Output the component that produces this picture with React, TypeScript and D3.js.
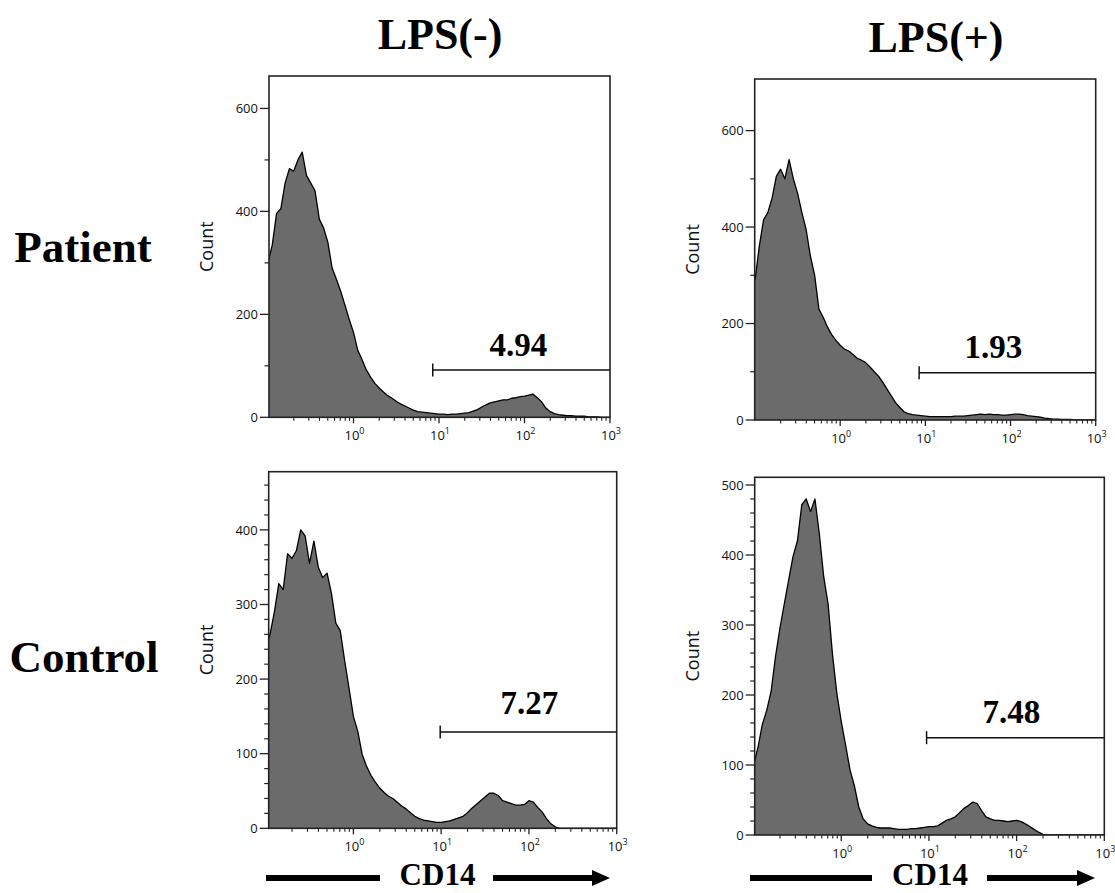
import React from 'react';
import * as d3 from 'd3';

// ---------- DATA ----------
// histogram channels (log10 of CD14 fluorescence)
const CHANNEL_LOG = [
  -1.00, -0.95, -0.90, -0.85, -0.80, -0.75, -0.70, -0.65, -0.60, -0.55,
  -0.50, -0.45, -0.40, -0.35, -0.30, -0.25, -0.20, -0.15, -0.10, -0.05,
  0.00, 0.05, 0.10, 0.15, 0.20, 0.25, 0.30, 0.35, 0.40, 0.45,
  0.50, 0.55, 0.60, 0.65, 0.70, 0.75, 0.80, 0.85, 0.90, 0.95,
  1.00, 1.05, 1.10, 1.15, 1.20, 1.25, 1.30, 1.35, 1.40, 1.45,
  1.50, 1.55, 1.60, 1.65, 1.70, 1.75, 1.80, 1.85, 1.90, 1.95,
  2.00, 2.05, 2.10, 2.15, 2.20, 2.25, 2.30, 2.35, 2.40, 2.45,
  2.50, 2.55, 2.60, 2.65, 2.70, 2.75, 2.80, 2.85, 2.90, 2.95,
  3.00,
];

// Patient, LPS(-)
const PATIENT_LPS_NEG = [
  300, 335, 396, 405, 455, 483, 478, 500, 515, 470,
  455, 440, 385, 368, 340, 290, 268, 245, 218, 190,
  165, 130, 112, 92, 78, 66, 57, 49, 42, 37,
  31, 26, 22, 18, 14, 11, 10, 9, 8, 7,
  6, 6, 5, 6, 6, 7, 8, 9, 12, 15,
  20, 24, 28, 30, 32, 34, 34, 37, 38, 40,
  41, 43, 45, 38, 30, 18, 11, 7, 5, 4,
  3, 3, 2, 2, 2, 1, 1, 1, 0, 0,
  0,
];

// Patient, LPS(+)
const PATIENT_LPS_POS = [
  290, 360, 415, 430, 460, 505, 520, 500, 540, 500,
  470, 430, 395, 340, 300, 230, 213, 193, 177, 165,
  155, 147, 143, 136, 128, 124, 119, 110, 100, 91,
  78, 64, 50, 36, 26, 17, 13, 11, 10, 9,
  8, 7, 7, 7, 7, 7, 7, 8, 8, 8,
  9, 10, 11, 12, 11, 12, 11, 11, 10, 10,
  11, 12, 12, 11, 9, 8, 7, 6, 4, 3,
  2, 2, 1, 1, 1, 0, 0, 0, 0, 0,
  0,
];

// Control, LPS(-)
const CONTROL_LPS_NEG = [
  240, 260, 290, 328, 320, 368, 362, 372, 400, 392,
  355, 385, 350, 336, 342, 315, 275, 265, 225, 188,
  150, 130, 99, 83, 71, 62, 54, 48, 43, 40,
  35, 30, 26, 21, 16, 13, 11, 10, 9, 8,
  8, 9, 10, 12, 14, 16, 21, 27, 32, 37,
  42, 47, 47, 44, 37, 35, 33, 31, 31, 32,
  37, 35, 28, 22, 13, 6, 2, 0, 0, 0,
  0, 0, 0, 0, 0, 0, 0, 0, 0, 0,
  0,
];

// Control, LPS(+)
const CONTROL_LPS_POS = [
  100, 125, 158, 178, 205, 255, 295, 330, 364, 398,
  420, 472, 480, 462, 480, 430, 369, 330, 258, 202,
  162, 128, 93, 70, 40, 23, 16, 13, 11, 10,
  10, 10, 9, 8, 8, 8, 9, 9, 10, 11,
  12, 12, 13, 17, 21, 23, 26, 32, 38, 42,
  47, 45, 35, 26, 23, 21, 21, 20, 19, 20,
  21, 19, 16, 12, 8, 4, 1, 0, 0, 0,
  0, 0, 0, 0, 0, 0, 0, 0, 0, 0,
  0,
];

const ROW_LABELS = ['Patient', 'Control'];
const COL_LABELS = ['LPS(-)', 'LPS(+)'];
const GATE_VALUES = ['4.94', '1.93', '7.27', '7.48'];
const GATE_START = [8.45, 8.45, 9.75, 9.4]; // CD14 where the marker begins
const GATE_LEVEL = [92, 98, 129, 139]; // count height of the marker
const Y_MAX = [663, 707, 478, 511];
const Y_MAJOR_TOP = [0, 200, 400, 600];
const Y_MINOR_TOP = [100, 300, 500];
const Y_MAJOR_CTRL_NEG = [0, 100, 200, 300, 400];
const Y_MAJOR_CTRL_POS = [0, 100, 200, 300, 400, 500];
const X_DECADES = [0, 1, 2, 3];
const X_MIN = [0.1027, 0.0991, 0.1084, 0.103];
const X_MAX = 1000;
const X_AXIS_LABEL = 'CD14';
const Y_AXIS_LABEL = 'Count';

// ---------- LAYOUT ----------
const W = 1115;
const H = 893;
const BOXES = [
  { x0: 269, x1: 610, y0: 76, y1: 417.3 },
  { x0: 754.7, x1: 1095.7, y0: 79, y1: 420 },
  { x0: 268.7, x1: 616.7, y0: 471.7, y1: 828.3 },
  { x0: 754.7, x1: 1104.3, y0: 477.3, y1: 835 },
];
const LABEL_OFFSET = [
  { dx: -3, dy: -14 },
  { dx: -14, dy: -14.5 },
  { dx: 1, dy: -18.5 },
  { dx: -4, dy: -14.5 },
];
const SERIF = '"Liberation Serif", "Times New Roman", Times, serif';
const SANS = '"Open Sans", "Noto Sans", Arial, sans-serif';
const FILL = '#6b6b6b';

const SERIES = [PATIENT_LPS_NEG, PATIENT_LPS_POS, CONTROL_LPS_NEG, CONTROL_LPS_POS];

function minorY(i: number, yMax: number): number[] {
  if (i < 2) return Y_MINOR_TOP;
  const out: number[] = [];
  for (let v = 20; v <= yMax; v += 20) if (v % 100 !== 0) out.push(v);
  return out;
}

function Panel({ i }: { i: number }) {
  const b = BOXES[i];
  const x = d3.scaleLog().domain([X_MIN[i], X_MAX]).range([b.x0, b.x1]);
  const y = d3.scaleLinear().domain([0, Y_MAX[i]]).range([b.y1, b.y0]);
  const counts = SERIES[i];
  const pts = CHANNEL_LOG.map((l, k) => ({ v: Math.pow(10, l), c: counts[k] }));
  const area = d3
    .area<{ v: number; c: number }>()
    .x((d) => x(d.v))
    .y0(y(0))
    .y1((d) => y(d.c));
  const line = d3
    .line<{ v: number; c: number }>()
    .x((d) => x(d.v))
    .y((d) => y(d.c));
  const majorY = i < 2 ? Y_MAJOR_TOP : i === 2 ? Y_MAJOR_CTRL_NEG : Y_MAJOR_CTRL_POS;
  const minY = minorY(i, Y_MAX[i]);
  const minorX: number[] = [];
  for (let e = -1; e < 3; e++) for (let m = 2; m <= 9; m++) {
    const v = m * Math.pow(10, e);
    if (v >= X_MIN[i]) minorX.push(v);
  }
  const clipId = `clip${i}`;
  const gx0 = x(GATE_START[i]);
  const gy = y(GATE_LEVEL[i]);
  const off = LABEL_OFFSET[i];
  return (
    <g>
      <defs>
        <clipPath id={clipId}>
          <rect x={b.x0} y={b.y0} width={b.x1 - b.x0} height={b.y1 - b.y0} />
        </clipPath>
      </defs>
      <g clipPath={`url(#${clipId})`}>
        <path d={area(pts) || ''} fill={FILL} />
        <path d={line(pts) || ''} fill="none" stroke="#000" strokeWidth={1.3} strokeLinejoin="round" />
      </g>
      <rect x={b.x0} y={b.y0} width={b.x1 - b.x0} height={b.y1 - b.y0} fill="none" stroke="#222" strokeWidth={1.6} />
      {/* y ticks */}
      {majorY.map((v) => (
        <g key={'my' + v}>
          <line x1={b.x0 - 9} x2={b.x0} y1={y(v)} y2={y(v)} stroke="#222" strokeWidth={1.3} />
          <text x={b.x0 - 11} y={y(v)} dy="0.36em" textAnchor="end" fontFamily={SANS} fontSize={13} fill="#111">
            {v}
          </text>
        </g>
      ))}
      {minY.map((v) => (
        <line key={'ny' + v} x1={b.x0 - 4.5} x2={b.x0} y1={y(v)} y2={y(v)} stroke="#222" strokeWidth={1.2} />
      ))}
      {/* x ticks */}
      {X_DECADES.map((e) => {
        const px = x(Math.pow(10, e));
        return (
          <g key={'mx' + e}>
            <line x1={px} x2={px} y1={b.y1} y2={b.y1 + 6} stroke="#222" strokeWidth={1.3} />
            <text x={px + 1} y={b.y1 + 23} textAnchor="middle" fontFamily={SANS} fontSize={13} fill="#111">
              10<tspan dy={-6} fontSize={9}>{e}</tspan>
            </text>
          </g>
        );
      })}
      {minorX.map((v) => (
        <line key={'nx' + v} x1={x(v)} x2={x(v)} y1={b.y1} y2={b.y1 + 3.5} stroke="#222" strokeWidth={1.1} />
      ))}
      {/* y axis label */}
      <text
        transform={`translate(${b.x0 - 56},${(b.y0 + b.y1) / 2}) rotate(-90)`}
        textAnchor="middle"
        fontFamily={SANS}
        fontSize={18}
        fill="#111"
      >
        {Y_AXIS_LABEL}
      </text>
      {/* gate */}
      <line x1={gx0} x2={b.x1} y1={gy} y2={gy} stroke="#111" strokeWidth={1.5} />
      <line x1={gx0} x2={gx0} y1={gy - 6.5} y2={gy + 6.5} stroke="#111" strokeWidth={1.5} />
      <text
        x={(gx0 + b.x1) / 2 + off.dx}
        y={gy + off.dy}
        textAnchor="middle"
        fontFamily={SERIF}
        fontWeight="bold"
        fontSize={33}
        fill="#000"
      >
        {GATE_VALUES[i]}
      </text>
    </g>
  );
}

function AxisArrow({ x0, x1, textX, textL, textR }: { x0: number; x1: number; textX: number; textL: number; textR: number }) {
  const yy = 878;
  return (
    <g>
      <line x1={x0} x2={textL} y1={yy} y2={yy} stroke="#000" strokeWidth={6} />
      <line x1={textR} x2={x1 - 14} y1={yy} y2={yy} stroke="#000" strokeWidth={6} />
      <polygon points={`${x1 - 18},${yy - 8} ${x1},${yy} ${x1 - 18},${yy + 8}`} fill="#000" />
      <text x={textX} y={885} textAnchor="middle" fontFamily={SERIF} fontWeight="bold" fontSize={31} fill="#000">
        {X_AXIS_LABEL}
      </text>
    </g>
  );
}

export default function App() {
  React.useEffect(() => {
    document.body.style.margin = '0';
  }, []);
  return (
    <svg width={W} height={H} viewBox={`0 0 ${W} ${H}`} style={{ display: 'block', background: '#fff' }}>
      <rect x={0} y={0} width={W} height={H} fill="#fff" />
      <text x={440} y={49} textAnchor="middle" fontFamily={SERIF} fontWeight="bold" fontSize={44} fill="#000">
        {COL_LABELS[0]}
      </text>
      <text x={936} y={52} textAnchor="middle" fontFamily={SERIF} fontWeight="bold" fontSize={44} fill="#000">
        {COL_LABELS[1]}
      </text>
      <text x={83} y={262} textAnchor="middle" fontFamily={SERIF} fontWeight="bold" fontSize={45} fill="#000">
        {ROW_LABELS[0]}
      </text>
      <text x={84} y={672} textAnchor="middle" fontFamily={SERIF} fontWeight="bold" fontSize={45} fill="#000">
        {ROW_LABELS[1]}
      </text>
      {[0, 1, 2, 3].map((i) => (
        <Panel key={i} i={i} />
      ))}
      <AxisArrow x0={266} x1={610} textX={437.5} textL={380} textR={493} />
      <AxisArrow x0={750} x1={1095} textX={930} textL={872} textR={987} />
    </svg>
  );
}
